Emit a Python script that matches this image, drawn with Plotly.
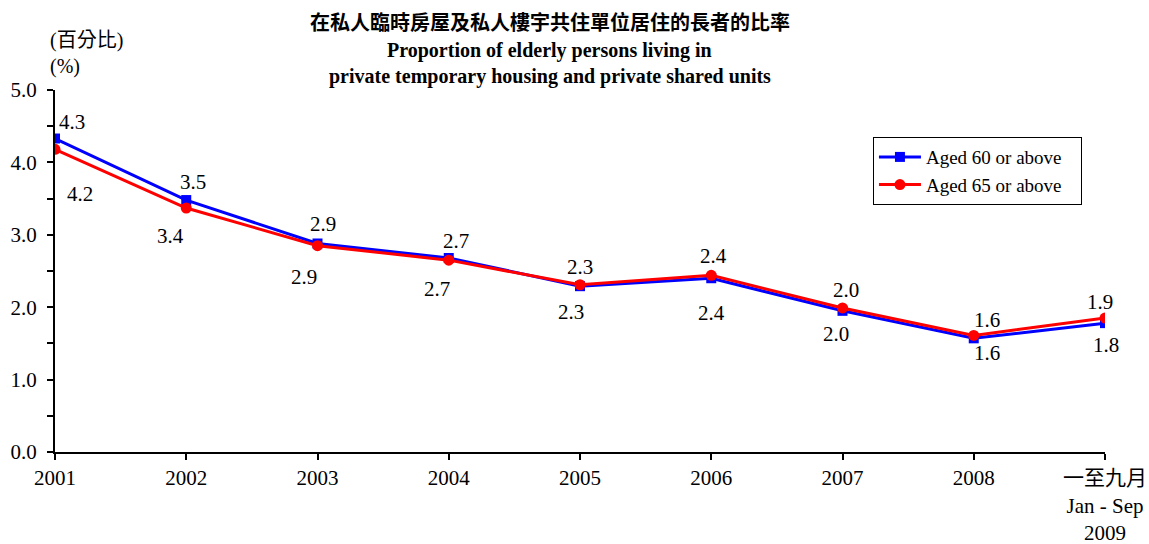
import plotly.graph_objects as go

# Data
categories = ['2001', '2002', '2003', '2004', '2005', '2006', '2007', '2008',
              '一至九月<br>Jan - Sep<br>2009']
aged60 = [4.33, 3.48, 2.88, 2.68, 2.29, 2.40, 1.95, 1.57, 1.78]
aged65 = [4.18, 3.37, 2.85, 2.65, 2.31, 2.44, 1.99, 1.61, 1.85]
labels60 = ['4.3', '3.5', '2.9', '2.7', '2.3', '2.4', '2.0', '1.6', '1.8']
labels65 = ['4.2', '3.4', '2.9', '2.7', '2.3', '2.4', '2.0', '1.6', '1.9']

# Label offsets (pixels) relative to each point
shift60 = [(17, 17), (7, 18), (5, 19), (7, 17), (-9, -26), (0, -35), (-7, -23), (13, -15), (1, -22)]
shift65 = [(25, -45), (-16, -28), (-14, -31), (-12, -29), (0, 18), (2, 19), (3, 18), (13, 15), (-5, 16)]

serif = 'Liberation Serif, Times New Roman, Noto Sans CJK TC, serif'
xs = list(range(len(categories)))
pad = '\u00a0\u00a0\u00a0'  # a bit of room on the right of the legend box

fig = go.Figure()
fig.add_trace(go.Scatter(x=xs, y=aged60, name='Aged 60 or above' + pad, mode='lines+markers',
                         line=dict(color='#0000FF', width=3),
                         marker=dict(symbol='square', size=10, color='#0000FF')))
fig.add_trace(go.Scatter(x=xs, y=aged65, name='Aged 65 or above' + pad, mode='lines+markers',
                         line=dict(color='#FF0000', width=3),
                         marker=dict(symbol='circle', size=11, color='#FF0000')))

# Data labels
for vals, labs, shifts in [(aged60, labels60, shift60), (aged65, labels65, shift65)]:
    for i, (v, t) in enumerate(zip(vals, labs)):
        fig.add_annotation(x=xs[i], y=v, text=t, showarrow=False,
                           xanchor='center', yanchor='middle',
                           xshift=shifts[i][0], yshift=shifts[i][1],
                           font=dict(family=serif, size=21, color='black'))

# Titles
fig.add_annotation(xref='paper', yref='paper', x=0.471, y=1.188, xanchor='center', yanchor='middle',
                   text='<b>在私人臨時房屋及私人樓宇共住單位居住的長者的比率</b>',
                   showarrow=False, font=dict(family='Noto Sans CJK TC', size=20, color='black'))
fig.add_annotation(xref='paper', yref='paper', x=0.471, y=1.11, xanchor='center', yanchor='middle',
                   text='<b>Proportion of elderly persons living in</b>',
                   showarrow=False, font=dict(family=serif, size=20, color='black'))
fig.add_annotation(xref='paper', yref='paper', x=0.471, y=1.038, xanchor='center', yanchor='middle',
                   text='<b>private temporary housing and private shared units</b>',
                   showarrow=False, font=dict(family=serif, size=20, color='black'))

# Y-axis unit
fig.add_annotation(xref='paper', yref='paper', x=-0.007, y=1.138, xanchor='left', yanchor='middle',
                   text='(百分比)', showarrow=False, font=dict(family=serif, size=20, color='black'))
fig.add_annotation(xref='paper', yref='paper', x=-0.007, y=1.066, xanchor='left', yanchor='middle',
                   text='(%)', showarrow=False, font=dict(family=serif, size=20, color='black'))

fig.update_layout(width=1149, height=544,
                  margin=dict(l=55, r=44, t=90, b=92),
                  plot_bgcolor='white', paper_bgcolor='white',
                  showlegend=True,
                  legend=dict(x=0.779, y=0.870, xanchor='left', yanchor='top',
                              bordercolor='black', borderwidth=1, bgcolor='white', itemwidth=42,
                              font=dict(family=serif, size=19, color='black')))

fig.update_xaxes(range=[0, len(categories) - 1], tickmode='array', tickvals=xs, ticktext=categories,
                 automargin=False,
                 showgrid=False, zeroline=False, showline=True, linecolor='black', linewidth=2,
                 ticks='outside', ticklen=6, tickwidth=2, tickcolor='black',
                 tickfont=dict(family=serif, size=21, color='black'))
fig.update_yaxes(range=[0, 5], dtick=1, tickformat='.1f', automargin=False,
                 showgrid=False, zeroline=False, showline=True, linecolor='black', linewidth=2,
                 ticks='outside', ticklen=6, tickwidth=2, tickcolor='black', ticklabelstandoff=6,
                 minor=dict(dtick=0.5, ticks='outside', ticklen=6, tickwidth=2, tickcolor='black'),
                 tickfont=dict(family=serif, size=21, color='black'))

# drop the default page margin so the figure fills the window exactly
fig.write_html('out.html', config={'displayModeBar': False},
               post_script="document.body.style.margin='0';")
